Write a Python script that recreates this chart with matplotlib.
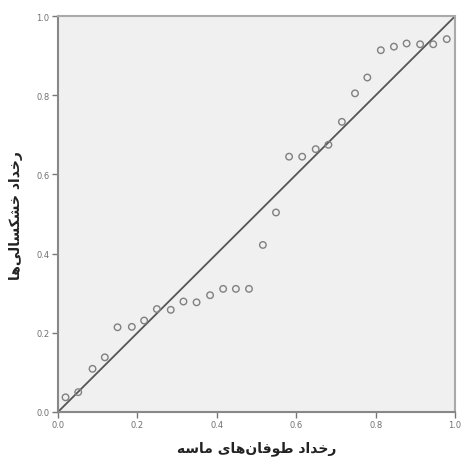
"""P-P plot: drought occurrence vs. sand storm occurrence."""

import matplotlib
matplotlib.use("Agg")
import matplotlib.pyplot as plt

# --- data ---
expected_prob = [0.019, 0.051, 0.087, 0.118, 0.150, 0.186, 0.217, 0.249, 0.284, 0.316,
                 0.349, 0.383, 0.416, 0.448, 0.481, 0.516, 0.549, 0.582, 0.615, 0.649,
                 0.681, 0.715, 0.748, 0.779, 0.813, 0.846, 0.878, 0.912, 0.945, 0.979]
observed_prob = [0.037, 0.050, 0.109, 0.138, 0.214, 0.215, 0.231, 0.260, 0.258, 0.279,
                 0.277, 0.295, 0.311, 0.311, 0.311, 0.422, 0.504, 0.645, 0.645, 0.664,
                 0.675, 0.733, 0.805, 0.845, 0.914, 0.923, 0.931, 0.929, 0.929, 0.942]
ticks = [0.0, 0.2, 0.4, 0.6, 0.8, 1.0]
tick_labels = ["0.0", "0.2", "0.4", "0.6", "0.8", "1.0"]

# Persian labels, pre-shaped with presentation forms (matplotlib does no
# Arabic shaping), stored in visual left-to-right order.
# "رخداد طوفان‌های ماسه"
x_label = ("\uFEEA\uFEB3\uFE8E\uFEE3" + " "
           + "\uFBFC\uFE8E\uFEEB\uFEE5\uFE8E\uFED3\uFEEE\uFEC3" + " "
           + "\uFEA9\uFE8D\uFEAA\uFEA7\uFEAD")
# "رخداد خشکسالی‌ها"
y_label = ("\uFE8E\uFEEB\uFBFD\uFEDF\uFE8E\uFEB4\uFB91\uFEB8\uFEA7" + " "
           + "\uFEA9\uFE8D\uFEAA\uFEA7\uFEAD")

plt.rcParams["font.family"] = ["DejaVu Sans"]

fig = plt.figure(figsize=(4.62, 4.64), dpi=100)
ax = fig.add_axes([0.1255, 0.110, 0.8595, 0.853])
ax.set_facecolor("#f0f0f0")

# reference diagonal
ax.plot([0, 1], [0, 1], color="#555555", linewidth=1.3, zorder=2)

ax.scatter(expected_prob, observed_prob, s=22, facecolors="none",
           edgecolors="#808080", linewidths=1.0, zorder=3)

ax.set_xlim(0, 1)
ax.set_ylim(0, 1)
ax.set_xticks(ticks)
ax.set_xticklabels(tick_labels)
ax.set_yticks(ticks)
ax.set_yticklabels(tick_labels)
ax.tick_params(direction="out", length=4, width=1, colors="#777777",
               labelsize=6, labelcolor="#707070", pad=2)

for side in ["left", "bottom"]:
    ax.spines[side].set_color("#888888")
    ax.spines[side].set_linewidth(1.5)
for side in ["top", "right"]:
    ax.spines[side].set_color("#aaaaaa")
    ax.spines[side].set_linewidth(1.5)

ax.set_xlabel(x_label, fontsize=10, fontweight="bold", color="#222222", labelpad=8)
ax.set_ylabel(y_label, fontsize=10, fontweight="bold", color="#222222", labelpad=10)

plt.savefig("out.png", dpi=100)
plt.close()
